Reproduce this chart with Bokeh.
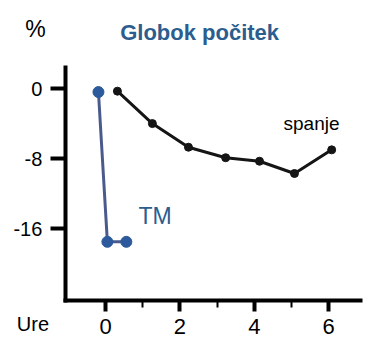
from bokeh.plotting import figure
from bokeh.models import Range1d, FixedTicker, Label, LinearAxis
from bokeh.embed import file_html
from bokeh.resources import INLINE

# Data
tm_hours = [-0.19, 0.05, 0.56]
tm_values = [-0.4, -17.5, -17.5]

sleep_hours = [0.32, 1.26, 2.23, 3.23, 4.14, 5.08, 6.08]
sleep_values = [-0.3, -4.0, -6.7, -7.9, -8.3, -9.7, -7.0]

x_ticks = [0, 2, 4, 6]
x_minor_ticks = [1, 3, 5]
y_ticks = [0, -8, -16]
y_tick_labels = {0: "0", -8: "-8", -16: "-16"}

title_text = "Globok počitek"
y_unit = "%"
x_unit = "Ure"
tm_label = "TM"
sleep_label = "spanje"

FONT = "Liberation Sans"
BLUE = "#2c5a9c"
BLUE_LINE = "#4a5a8c"

X_LO, X_HI = -1.08, 6.85     # extent of the drawn x axis
Y_LO, Y_HI = -24.2, 2.4      # extent of the drawn y axis

p = figure(width=376, height=353, output_backend="svg", toolbar_location=None,
           x_range=Range1d(-2.823, 7.285), y_range=Range1d(-30.25, 10.05),
           x_axis_location=None, y_axis_location=None,
           min_border=0)
p.outline_line_color = None
p.background_fill_color = "white"
p.border_fill_color = "white"
for g in p.grid:
    g.visible = False

# X axis
xa = LinearAxis(fixed_location=Y_LO, bounds=(X_LO, X_HI))
xa.ticker = FixedTicker(ticks=x_ticks, minor_ticks=x_minor_ticks)
xa.axis_line_width = 4
xa.axis_line_color = "black"
xa.axis_line_cap = "square"
xa.major_tick_line_width = 4
xa.major_tick_out = 11
xa.major_tick_in = 0
xa.minor_tick_line_width = 2
xa.minor_tick_out = 7
xa.minor_tick_in = 0
xa.major_label_text_font = FONT
xa.major_label_text_font_size = "22px"
xa.major_label_text_color = "black"
xa.major_label_standoff = 7
p.add_layout(xa, "below")

# Y axis
ya = LinearAxis(fixed_location=X_LO, bounds=(Y_LO, Y_HI))
ya.ticker = FixedTicker(ticks=y_ticks, minor_ticks=[])
ya.major_label_overrides = y_tick_labels
ya.axis_line_width = 4
ya.axis_line_color = "black"
ya.axis_line_cap = "square"
ya.major_tick_line_width = 4
ya.major_tick_out = 15
ya.major_tick_in = 0
ya.minor_tick_line_color = None
ya.major_label_text_font = FONT
ya.major_label_text_font_size = "20px"
ya.major_label_text_color = "black"
ya.major_label_standoff = 8
p.add_layout(ya, "left")

# Series
p.line(sleep_hours, sleep_values, line_color="#151515", line_width=3)
p.scatter(sleep_hours, sleep_values, size=8, color="#151515", marker="circle")

p.line(tm_hours, tm_values, line_color=BLUE_LINE, line_width=3)
p.scatter(tm_hours, tm_values, size=11, color=BLUE, marker="circle")

# Texts
p.add_layout(Label(x=2.53, y=6.4, text=title_text, text_font=FONT,
                   text_font_size="22px", text_font_style="bold",
                   text_color="#2b5d8f", text_align="center",
                   text_baseline="alphabetic"))
p.add_layout(Label(x=-1.88, y=6.85, text=y_unit, text_font=FONT,
                   text_font_size="23px", text_color="black",
                   text_align="center", text_baseline="alphabetic"))
p.add_layout(Label(x=-1.95, y=-26.83, text=x_unit, text_font=FONT,
                   text_font_size="20px", text_color="black",
                   text_align="center", text_baseline="alphabetic"))
p.add_layout(Label(x=0.887, y=-14.5, text=tm_label, text_font=FONT,
                   text_font_size="23px", text_color="#2b5d8f",
                   text_align="left", text_baseline="alphabetic"))
p.add_layout(Label(x=4.785, y=-4.0, text=sleep_label, text_font=FONT,
                   text_font_size="19px", text_color="black",
                   text_align="left", text_baseline="alphabetic"))

open("out.html", "w").write(file_html(p, INLINE))
